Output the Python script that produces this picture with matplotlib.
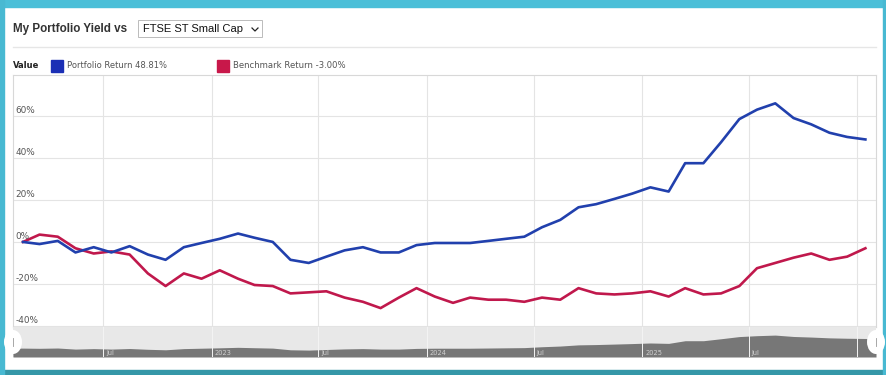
import matplotlib.pyplot as plt
from matplotlib.patches import Rectangle, Ellipse
import pandas as pd

# monthly points, Feb 2022 .. Jan 2026
dates = pd.date_range("2022-02-01", periods=48, freq="MS") + pd.Timedelta(days=14)

portfolio = [0, -1, 0.5, -5, -2.5, -5, -2, -6, -8.5, -2.5,
             -0.5, 1.5, 4, 2, 0, -8.5, -10, -7, -4, -2.5,
             -5, -5, -1.5, -0.5, -0.5, -0.5, 0.5, 1.5, 2.5, 7,
             10.5, 16.5, 18, 20.5, 23, 26, 24, 37.5, 37.5, 47.5,
             58.5, 63, 66, 59, 56, 52, 50, 48.81]

benchmark = [0, 3.5, 2.5, -3, -5.5, -4.5, -6, -15, -21, -15,
             -17.5, -13.5, -17.5, -20.5, -21, -24.5, -24, -23.5, -26.5, -28.5,
             -31.5, -26.5, -22, -26, -29, -26.5, -27.5, -27.5, -28.5, -26.5,
             -27.5, -22, -24.5, -25, -24.5, -23.5, -26, -22, -25, -24.5,
             -21, -12.5, -10, -7.5, -5.5, -8.5, -7, -3.0]

y_ticks = [-40, -20, 0, 20, 40, 60]
nav_labels = ["Jul", "2023", "Jul", "2024", "Jul", "2025", "Jul"]
nav_dates = pd.to_datetime(["2022-07-01", "2023-01-01", "2023-07-01", "2024-01-01",
                            "2024-07-01", "2025-01-01", "2025-07-01"])
grid_dates = pd.to_datetime(["2022-07-01", "2023-01-01", "2023-07-01", "2024-01-01",
                             "2024-07-01", "2025-01-01", "2025-07-01", "2026-01-01"])

BLUE = "#2140ad"
RED = "#c0184c"
W, H = 886, 375
X0, X1 = pd.Timestamp("2022-01-29"), pd.Timestamp("2026-02-02")


def fx(x):
    return x / W


def fy(y):
    return 1 - y / H


fig = plt.figure(figsize=(W / 100, H / 100), dpi=100)
fig.patch.set_facecolor("white")

# teal frame
fig.patches.append(Rectangle((0, fy(7)), 1, 7 / H, transform=fig.transFigure, color="#4bbfd8", zorder=0))
fig.patches.append(Rectangle((0, 0), 1, 5 / H, transform=fig.transFigure, color="#3597a8", zorder=0))
fig.patches.append(Rectangle((0, 0), 4 / W, 1, transform=fig.transFigure, color="#48b9d2", zorder=0))
fig.patches.append(Rectangle((1 - 3 / W, 0), 3 / W, 1, transform=fig.transFigure, color="#48b9d2", zorder=0))

# header
fig.text(fx(13), fy(29), "My Portfolio Yield vs", fontsize=8.4, fontweight="bold",
         family="Liberation Sans", color="#333333", va="center")
fig.patches.append(Rectangle((fx(138), fy(37)), 124 / W, 17 / H, transform=fig.transFigure,
                             fill=False, edgecolor="#bbbbbb", linewidth=0.7))
fig.text(fx(143), fy(29), "FTSE ST Small Cap", fontsize=8.0, family="Liberation Sans",
         color="#111111", va="center")
fig.lines.append(plt.Line2D([fx(252), fx(255), fx(258)], [fy(28), fy(31), fy(28)],
                            transform=fig.transFigure, color="#222222", linewidth=0.9))
fig.lines.append(plt.Line2D([fx(13), fx(876)], [fy(47), fy(47)], transform=fig.transFigure,
                            color="#e6e6e6", linewidth=1))

# legend row
fig.text(fx(13), fy(66), "Value", fontsize=6.0, fontweight="bold", color="#222222", va="center")
fig.patches.append(Rectangle((fx(51), fy(72)), 12 / W, 12 / H, transform=fig.transFigure, color="#1b2fb5"))
fig.text(fx(67), fy(66), "Portfolio Return 48.81%", fontsize=6.0, color="#555555", va="center")
fig.patches.append(Rectangle((fx(217), fy(72)), 12 / W, 12 / H, transform=fig.transFigure, color="#c8184a"))
fig.text(fx(233), fy(66), "Benchmark Return -3.00%", fontsize=6.1, color="#555555", va="center")

# main chart
ax = fig.add_axes([fx(13), fy(327), 863 / W, 252 / H])
ax.set_xlim(X0, X1)
ax.set_ylim(-40.5, 79.5)
for v in y_ticks:
    ax.axhline(v, color="#e4e4e4", linewidth=0.8, zorder=1)
    ax.text(0.003, v + 0.6, f"{v}%", transform=ax.get_yaxis_transform(), fontsize=6.4,
            color="#555555", va="bottom", ha="left", zorder=4)
for d in grid_dates:
    ax.axvline(d, color="#e4e4e4", linewidth=0.8, zorder=1)
ax.plot(dates, benchmark, color=RED, linewidth=1.9, zorder=3, solid_joinstyle="round")
ax.plot(dates, portfolio, color=BLUE, linewidth=1.9, zorder=3, solid_joinstyle="round")
ax.set_xticks([])
ax.set_yticks([])
for s in ax.spines.values():
    s.set_color("#d8d8d8")
    s.set_linewidth(0.8)

# navigator (overview of portfolio series across full range)
nav = fig.add_axes([fx(13), fy(357), 863 / W, 30 / H])
nav.set_facecolor("#e8e8e8")
nav.set_xlim(X0, X1)
nav.set_ylim(-45, 107)
nav_x = [X0] + list(dates) + [X1]
nav_y = [portfolio[0]] + portfolio + [portfolio[-1]]
nav.fill_between(nav_x, -45, nav_y, color="#777777", linewidth=0, zorder=2)
for d in grid_dates:
    nav.axvline(d, color="#f4f4f4", linewidth=0.7, zorder=3)
for d, lab in zip(nav_dates, nav_labels):
    nav.text(d + pd.Timedelta(days=5), -42, lab, fontsize=4.8, color="#cfcfcf",
             va="bottom", ha="left", zorder=4)
nav.set_xticks([])
nav.set_yticks([])
for s in nav.spines.values():
    s.set_visible(False)

# navigator handles
for hx in (13, 876):
    fig.patches.append(Ellipse((fx(hx), fy(342)), 18 / W, 24 / H, transform=fig.transFigure,
                               facecolor="white", edgecolor="none", zorder=5))
    fig.lines.append(plt.Line2D([fx(hx), fx(hx)], [fy(338), fy(346)], transform=fig.transFigure,
                                color="#999999", linewidth=0.6, zorder=6))

fig.savefig("out.png", dpi=100)
